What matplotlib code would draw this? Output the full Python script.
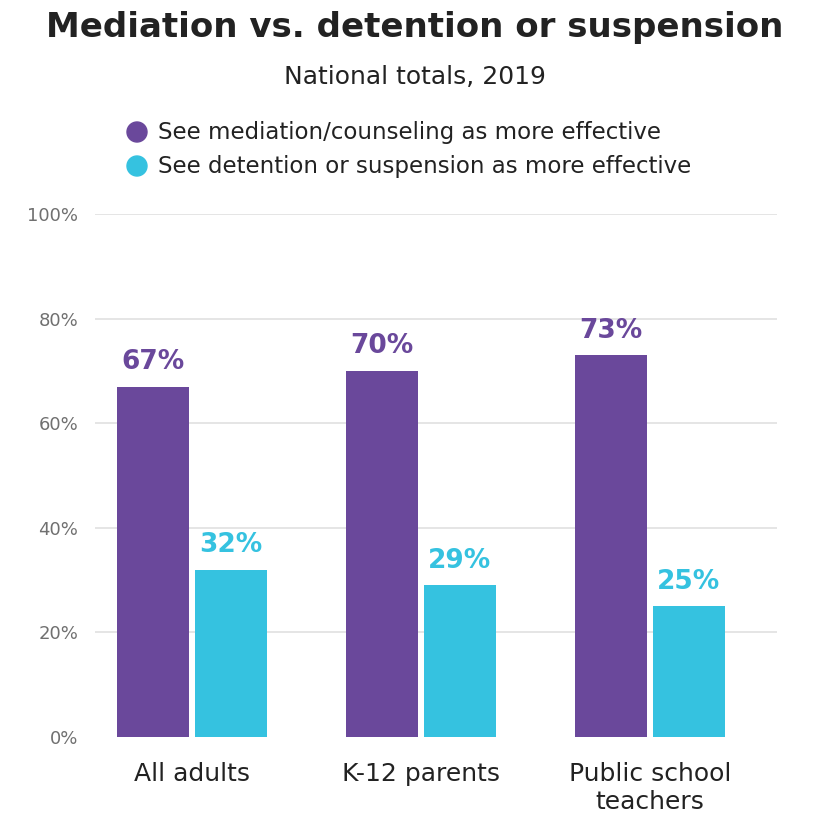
import matplotlib.pyplot as plt
import numpy as np

categories = ["All adults", "K-12 parents", "Public school\nteachers"]
mediation = [67, 70, 73]
detention = [32, 29, 25]
series_names = ["See mediation/counseling as more effective",
                "See detention or suspension as more effective"]
yticks = [0, 20, 40, 60, 80, 100]

PURPLE = "#6A489B"
CYAN = "#35C2E0"
DARK = "#222222"
GREY = "#707070"

plt.rcParams["font.family"] = ["DejaVu Sans"]

fig = plt.figure(figsize=(8.3, 8.3), dpi=100)
ax = fig.add_axes([95 / 830, 93 / 830, 682 / 830, 523 / 830])

x = np.arange(len(categories))
w = 0.314
off = 0.170
b1 = ax.bar(x - off, mediation, w, color=PURPLE)
b2 = ax.bar(x + off, detention, w, color=CYAN)

for bars, vals, col in ((b1, mediation, PURPLE), (b2, detention, CYAN)):
    for rect, v in zip(bars, vals):
        ax.text(rect.get_x() + rect.get_width() / 2, v + 2.2, f"{v}%",
                ha="center", va="bottom", fontsize=19, fontweight="bold", color=col)

ax.set_xlim(-0.424, 2.555)
ax.set_ylim(0, 100)
ax.set_yticks(yticks)
ax.set_yticklabels([f"{t}%" for t in yticks])
for t in yticks[1:]:
    ax.axhline(t, color="#e3e3e3", lw=1.3, zorder=0)
ax.tick_params(axis="y", length=0, pad=12, labelsize=13, labelcolor=GREY)
ax.tick_params(axis="x", length=0, pad=18, labelsize=18, labelcolor=DARK)
ax.set_xticks(x)
ax.set_xticklabels(categories, linespacing=1.2, va="top")
for s in ax.spines.values():
    s.set_visible(False)

fig.text(0.5, 1 - 28 / 830, "Mediation vs. detention or suspension", ha="center", va="center",
         fontsize=24.5, fontweight="bold", color=DARK)
fig.text(0.5, 1 - 77 / 830, "National totals, 2019", ha="center", va="center",
         fontsize=18, color=DARK)

for i, (name, col) in enumerate(zip(series_names, (PURPLE, CYAN))):
    yy = 1 - (132 + 34 * i) / 830
    fig.patches.append(plt.Circle((137 / 830, yy), 10 / 830, color=col,
                                  transform=fig.transFigure, figure=fig))
    fig.text(158 / 830, yy, name, ha="left", va="center", fontsize=16.5, color=DARK)

fig.savefig("out.png", dpi=100, facecolor="white")
